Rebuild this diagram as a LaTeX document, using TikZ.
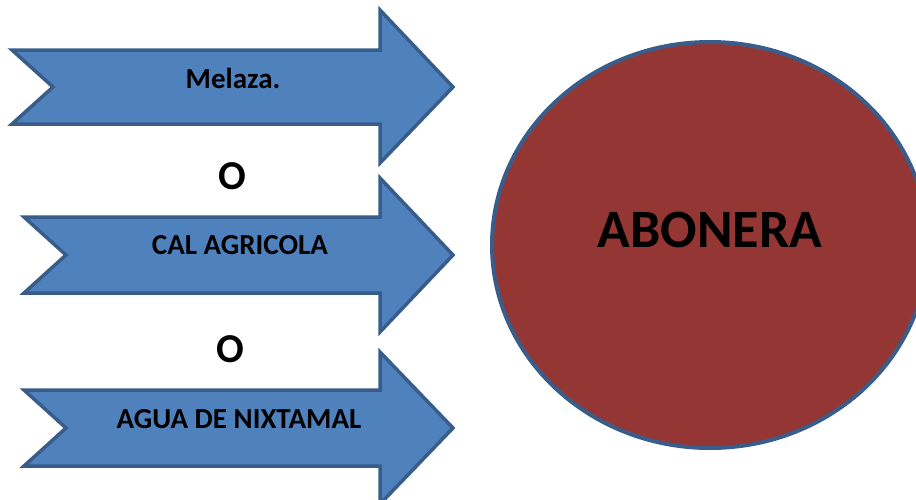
\documentclass[tikz,border=0pt]{standalone}
\usepackage{fontspec}
\setmainfont{Carlito}
\definecolor{arrowfill}{HTML}{4F81BD}
\definecolor{arrowline}{HTML}{385D8A}
\definecolor{circfill}{HTML}{943634}
\begin{document}
\begin{tikzpicture}[x=1pt,y=-1pt,
  arrowshape/.style={fill=arrowfill,draw=arrowline,line width=3.5pt,line join=miter},
  arrowlabel/.style={font=\bfseries\fontsize{29}{34}\selectfont,text=black,inner sep=0pt},
  orlabel/.style={font=\bfseries\fontsize{41}{48}\selectfont,text=black,inner sep=0pt}]
\useasboundingbox (0,0) rectangle (916,499);
\clip (0,0) rectangle (916,499);
% arrow 1
\draw[arrowshape] (12,50) -- (380,50) -- (380,10) -- (453,87) -- (380,163) -- (380,124) -- (12,124) -- (53,87) -- cycle;
\node[arrowlabel] (melaza) at (233,78) {Melaza.};
\node[orlabel] (o1) at (232,176) {O};
% arrow 2
\draw[arrowshape] (24,217) -- (380,217) -- (380,178) -- (453,255) -- (380,332) -- (380,293) -- (24,293) -- (66,255) -- cycle;
\node[arrowlabel] (cal) at (240,245) {CAL AGRICOLA};
\node[orlabel] (o2) at (230,349) {O};
% arrow 3
\draw[arrowshape] (24,390) -- (380,390) -- (380,352) -- (453,428) -- (380,504) -- (380,466) -- (24,466) -- (66,428) -- cycle;
\node[arrowlabel] (agua) at (239,419) {AGUA DE NIXTAMAL};
% circle
\draw[fill=circfill,draw=arrowline,line width=4pt] (710,245) ellipse [x radius=218,y radius=203];
\node[font=\bfseries\fontsize{54}{64}\selectfont,inner sep=0pt] (abonera) at (710,230) {ABONERA};
\end{tikzpicture}
\end{document}
